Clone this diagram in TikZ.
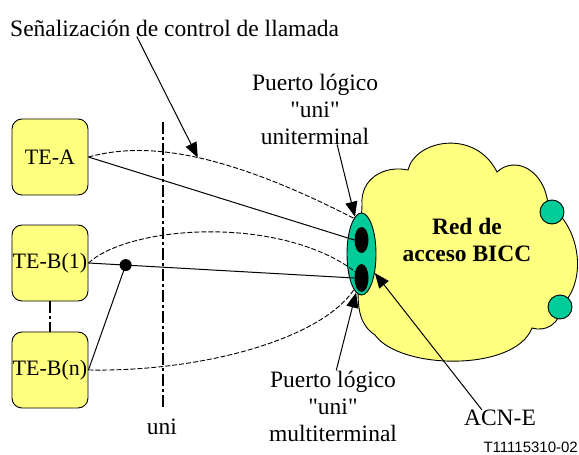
\documentclass[tikz,border=0pt]{standalone}
\usepackage{fontspec}
\setmainfont{Liberation Serif}
\newfontfamily\figidfont{Liberation Sans}
\usetikzlibrary{shapes.geometric,arrows.meta,calc}
\definecolor{termyellow}{RGB}{255,255,128}
\definecolor{portgreen}{RGB}{0,204,153}
\tikzset{
  term/.style={draw, rectangle, rounded corners=10pt, fill=termyellow, minimum width=76pt, minimum height=76pt, inner sep=0pt, line width=0.9pt, font=\fontsize{22}{26}\selectfont},
  port/.style={draw, ellipse, fill=portgreen, inner sep=0pt, line width=0.9pt},
  subport/.style={ellipse, fill=black, inner sep=0pt},
  stub/.style={draw, circle, fill=portgreen, minimum size=24pt, inner sep=0pt, line width=0.9pt},
  tapdot/.style={circle, fill=black, minimum size=12pt, inner sep=0pt},
  sig/.style={dash pattern=on 5pt off 2pt, line width=0.9pt},
  wire/.style={line width=1pt},
  callout/.style={-{Triangle[length=15pt,width=12pt]}, line width=1pt},
  ifline/.style={dash pattern=on 12pt off 3pt on 3pt off 3pt, line width=1.6pt},
  txt/.style={font=\fontsize{23.5}{27}\selectfont, align=center, inner sep=0pt},
}
\begin{document}
\begin{tikzpicture}[x=1pt, y=-1pt]
\useasboundingbox (0,0) rectangle (579,455);
% BICC access network
\draw[fill=termyellow, line width=0.9pt] (362,205)
  .. controls (360,178) and (385,165) .. (408,170)
  .. controls (415,140) and (475,128) .. (497,172)
  .. controls (515,155) and (545,170) .. (548,205)
  .. controls (580,225) and (588,280) .. (562,305)
  .. controls (560,325) and (545,332) .. (532,328)
  .. controls (515,372) and (400,370) .. (375,335)
  .. controls (360,325) and (358,310) .. (358,290) -- cycle;
\node[stub] (stubA) at (552,212) {};
\node[stub] (stubB) at (560,307) {};
\node[txt, font=\fontsize{23.5}{27}\selectfont\bfseries] (bicc) at (467,240) {Red de\\acceso BICC};
\node[port, minimum width=29pt, minimum height=82pt] (acne) at (361.5,254) {};
\node[subport, minimum width=14pt, minimum height=26pt] (puni) at (361.5,240) {};
\node[subport, minimum width=14pt, minimum height=28pt] (pmulti) at (361.5,278) {};
% terminals
\node[term] (tea) at (50,157) {TE-A};
\node[term] (teb1) at (50,263) {TE-B(1)};
\node[term] (tebn) at (50,370) {TE-B(n)};
\draw[ifline] (teb1.south) -- (tebn.north);
% uni interface
\coordinate (unitop) at (163,122);
\coordinate (unibot) at (163,408);
\draw[ifline] (unitop) -- (unibot);
\node[txt] (uni) at (162,427) {uni};
% labels
\node[txt, anchor=base west] (title) at (10,36) {Señalización de control de llamada};
\node[txt] (lbluni) at (315,109) {Puerto lógico\\\textquotedbl uni\textquotedbl\\uniterminal};
\node[txt] (lblmulti) at (333,406) {Puerto lógico\\\textquotedbl uni\textquotedbl\\multiterminal};
\node[txt] (acnlbl) at (500,418) {ACN-E};
\node[font=\figidfont\fontsize{15}{15}\selectfont, anchor=east, inner sep=0pt] (figid) at (578,447) {T11115310-02};
% signalling paths
\draw[sig] (tea.east) .. controls (150,140) and (230,155) .. (acne.102) coordinate[pos=0.5] (sigpeak);
\draw[sig] (teb1.east) .. controls (130,225) and (280,215) .. (pmulti.135);
\draw[sig] (tebn.east) .. controls (200,372) and (320,340) .. (acne.258);
% bearer connections
\node[tapdot] (tap) at ($(teb1.east)!0.14!(pmulti.west)$) {};
\draw[wire] (tea.east) -- (puni.west);
\draw[wire] (teb1.east) -- (pmulti.west);
\draw[wire] (tap.center) -- (tebn.east);
% callouts
\draw[callout] ($(title.south west)!0.385!(title.south east)$) -- (sigpeak);
\draw[callout] ($(lbluni.south)!0.35!(lbluni.south east)$) -- (acne.100);
\draw[callout] ($(lblmulti.north)!0.05!(lblmulti.north east)$) -- (acne.262);
\draw[callout] ($(acnlbl.north west)!0.25!(acnlbl.north east)$) -- (acne.-55);
\end{tikzpicture}
\end{document}
